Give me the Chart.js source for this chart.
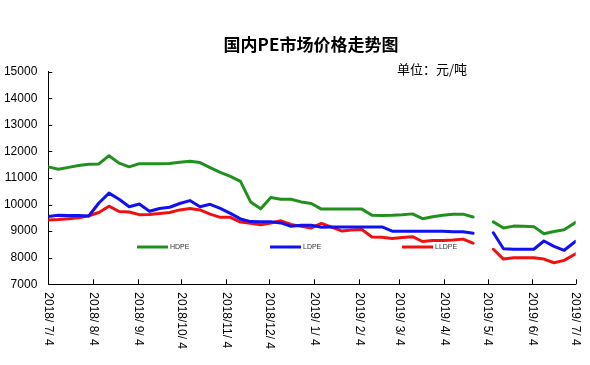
<!DOCTYPE html>
<html>
<head>
<meta charset="utf-8">
<script src="https://cdn.jsdelivr.net/npm/chart.js@4/dist/chart.umd.min.js"></script>
<style>
html,body{margin:0;padding:0;background:#fff;}
#wrap{width:590px;height:365px;position:relative;}
</style>
</head>
<body>
<div id="wrap"><canvas id="c" width="590" height="365"></canvas></div>
<script>
const chartTitle = '国内PE市场价格走势图';
const unitText = '单位：元/吨';
const seriesNames = ['HDPE', 'LDPE', 'LLDPE'];
const seriesColors = ['#22901f', '#1010f0', '#f01010'];

const categories = [
 '2018-07-04','2018-07-11','2018-07-18','2018-07-25','2018-08-01','2018-08-08','2018-08-15','2018-08-22','2018-08-29',
 '2018-09-05','2018-09-12','2018-09-19','2018-09-26','2018-10-03','2018-10-10','2018-10-17','2018-10-24','2018-10-31',
 '2018-11-07','2018-11-14','2018-11-21','2018-11-28','2018-12-05','2018-12-12','2018-12-19','2018-12-26',
 '2019-01-02','2019-01-09','2019-01-16','2019-01-23','2019-01-30','2019-02-06','2019-02-13','2019-02-20','2019-02-27',
 '2019-03-06','2019-03-13','2019-03-20','2019-03-27','2019-04-03','2019-04-10','2019-04-17','2019-04-24','2019-05-01',
 '2019-05-08','2019-05-15','2019-05-22','2019-05-29','2019-06-05','2019-06-12','2019-06-19','2019-06-26','2019-07-04'
];

const hdpe = [
 11420,11330,11400,11470,11520,11530,11840,11560,11420,
 11540,11540,11540,11550,11590,11630,11580,11390,11210,
 11060,10870,10100,9840,10270,10200,10200,10100,
 10040,9830,9830,9830,9830,9830,9600,9590,9600,
 9620,9650,9470,9540,9600,9640,9640,9530,null,
 9350,9120,9190,9180,9170,8900,8990,9050,9330
];
const ldpe = [
 9550,9600,9590,9590,9570,10060,10430,10200,9920,
 10020,9750,9850,9900,10040,10150,9920,10010,9860,
 9670,9460,9360,9350,9350,9310,9180,9220,
 9220,9150,9160,9160,9160,9160,9160,9160,9000,
 9000,9000,9000,9000,9000,8980,8980,8920,null,
 8940,8340,8320,8320,8320,8630,8430,8280,8620
];
const lldpe = [
 9420,9440,9470,9500,9580,9700,9940,9740,9720,
 9620,9630,9660,9700,9800,9850,9800,9640,9520,
 9520,9340,9300,9240,9310,9390,9250,9180,
 9120,9290,9150,9010,9040,9060,8780,8770,8720,
 8760,8790,8610,8650,8650,8670,8700,8550,null,
 8320,7950,8000,8000,8000,7950,7810,7900,8150
];

const xTickDates = ['2018-07-04','2018-08-04','2018-09-04','2018-10-04','2018-11-04','2018-12-04',
 '2019-01-04','2019-02-04','2019-03-04','2019-04-04','2019-05-04','2019-06-04','2019-07-04'];
const xTickLabels = ['2018/ 7/ 4','2018/ 8/ 4','2018/ 9/ 4','2018/10/ 4','2018/11/ 4','2018/12/ 4',
 '2019/ 1/ 4','2019/ 2/ 4','2019/ 3/ 4','2019/ 4/ 4','2019/ 5/ 4','2019/ 6/ 4','2019/ 7/ 4'];
const yMin = 7000, yMax = 15000, yStep = 1000;

function dayOf(s){
  const p = s.split('-').map(Number);
  return (Date.UTC(p[0], p[1]-1, p[2]) - Date.UTC(2018, 6, 4)) / 86400000;
}
const xs = categories.map(dayOf);
function pts(vals){ return vals.map((v,i)=>({x: xs[i], y: v})); }

const FONT = '"Liberation Sans", Arial, sans-serif';
const CJK = '"Noto Sans CJK SC", sans-serif';

const decor = {
  id: 'decor',
  afterDraw(chart){
    const ctx = chart.ctx;
    const xs_ = chart.scales.x, ys_ = chart.scales.y;
    const ca = chart.chartArea;
    ctx.save();
    ctx.fillStyle = '#000';
    ctx.font = 'bold 17px ' + CJK;
    ctx.textAlign = 'center';
    ctx.textBaseline = 'middle';
    ctx.fillText(chartTitle, 311, 45);
    ctx.font = '13px ' + CJK;
    ctx.textAlign = 'left';
    ctx.fillText(unitText, 397, 69);
    ctx.strokeStyle = '#000';
    ctx.lineWidth = 1;
    ctx.beginPath();
    for (let v = yMin; v <= yMax; v += yStep){
      const y = Math.round(ys_.getPixelForValue(v)) + 0.5;
      ctx.moveTo(ca.left, y); ctx.lineTo(ca.left + 4, y);
    }
    xTickDates.forEach(d => {
      const x = Math.round(xs_.getPixelForValue(dayOf(d))) + 0.5;
      ctx.moveTo(x, ca.bottom); ctx.lineTo(x, ca.bottom - 5);
    });
    ctx.stroke();
    ctx.font = '12px ' + FONT;
    ctx.fillStyle = '#000';
    ctx.textAlign = 'left';
    ctx.textBaseline = 'middle';
    xTickDates.forEach((d, i) => {
      const x = xs_.getPixelForValue(dayOf(d));
      ctx.save();
      ctx.translate(x, ca.bottom + 8);
      ctx.rotate(Math.PI / 2);
      ctx.fillText(xTickLabels[i], 0, 0);
      ctx.restore();
    });
    const legX = [137, 270, 402];
    const legY = 247;
    chart.data.datasets.forEach((ds, i) => {
      ctx.strokeStyle = ds.borderColor;
      ctx.lineWidth = 3;
      ctx.beginPath();
      ctx.moveTo(legX[i], legY); ctx.lineTo(legX[i] + 31, legY);
      ctx.stroke();
      ctx.fillStyle = '#333';
      ctx.font = '7px ' + FONT;
      ctx.textAlign = 'left';
      ctx.textBaseline = 'middle';
      ctx.fillText(ds.label, legX[i] + 33, legY);
    });
    ctx.restore();
  }
};

new Chart(document.getElementById('c'), {
  type: 'line',
  data: {
    datasets: [
      {label: seriesNames[0], data: pts(hdpe), borderColor: seriesColors[0]},
      {label: seriesNames[1], data: pts(ldpe), borderColor: seriesColors[1]},
      {label: seriesNames[2], data: pts(lldpe), borderColor: seriesColors[2]}
    ]
  },
  options: {
    responsive: false,
    animation: false,
    devicePixelRatio: 1,
    spanGaps: false,
    elements: {
      line: {borderWidth: 3, tension: 0, borderJoinStyle: 'round', borderCapStyle: 'round'},
      point: {radius: 0, hoverRadius: 0}
    },
    layout: {padding: {left: 0, right: 14.3, top: 71.7, bottom: 0}},
    plugins: {legend: {display: false}, tooltip: {enabled: false}, title: {display: false}},
    scales: {
      x: {
        type: 'linear',
        min: 0, max: 365,
        grid: {display: false, drawTicks: false},
        border: {display: true, color: '#000', width: 1},
        ticks: {display: false},
        afterFit(s){ s.height = 80.7; }
      },
      y: {
        min: yMin, max: yMax,
        grid: {display: false, drawTicks: false},
        border: {display: true, color: '#000', width: 1},
        ticks: {stepSize: yStep, color: '#000', font: {family: FONT, size: 12}, padding: 11,
                callback: v => String(v)},
        afterFit(s){ s.width = 48.3; }
      }
    }
  },
  plugins: [decor]
});
</script>
</body>
</html>
